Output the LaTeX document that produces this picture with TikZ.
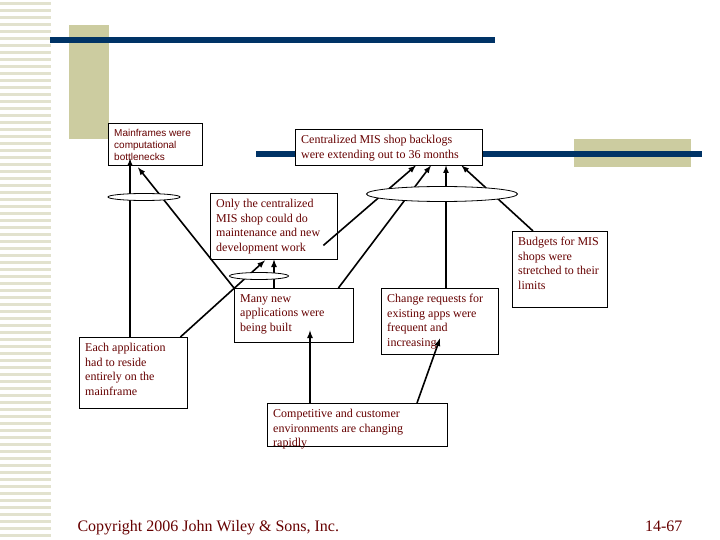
\documentclass[tikz,border=0pt]{standalone}
\usepackage{fontspec}
\setmainfont{Liberation Serif}
\setsansfont{Liberation Sans}
\usepackage{tikz}
\usetikzlibrary{positioning,arrows}
\definecolor{txtred}{RGB}{102,0,0}
\definecolor{navybar}{RGB}{0,51,102}
\definecolor{khaki}{RGB}{204,204,160}
\definecolor{stripe}{RGB}{226,226,206}
\newcommand{\boxtext}[3]{\parbox[c][#2][t]{#1}{\raggedright #3}}

\begin{document}
\begin{tikzpicture}[x=1pt,y=-1pt,
	box/.style={draw,fill=white,anchor=north west,inner xsep=6pt,inner ysep=6pt,text=txtred,font=\fontsize{12}{14.5}\selectfont},
	link/.style={line width=1.6pt,-latex},
	ring/.style={draw,fill=white,line width=0.8pt}]
	\useasboundingbox (0,0) rectangle (720,540);
	\foreach\y in {2,9,...,538}
	{\fill[stripe] (0,\y) rectangle (51,\y+3);}
	\fill[khaki] (69,25) rectangle (109,139);
	\fill[khaki] (574,139) rectangle (691,167);
	\fill[navybar] (50,37) rectangle (495,43);
	\fill[navybar] (256,151) rectangle (702,157);

	\node[box,font=\sffamily\fontsize{10}{12}\selectfont] (mf) at (108,123) {\boxtext{82pt}{30pt}{Mainframes were\\computational\\bottlenecks}};
	\node[box] (cen) at (295,129) {\boxtext{175pt}{24pt}{Centralized MIS shop backlogs\\were extending out to 36 months}};
	\node[box] (only) at (210,193) {\boxtext{115pt}{54pt}{Only the centralized\\MIS shop could do\\maintenance and new\\development work}};
	\node[box] (many) at (234,288) {\boxtext{107pt}{42pt}{Many new\\applications were\\being built}};
	\node[box] (chg) at (381,288) {\boxtext{105pt}{54pt}{Change requests for\\existing apps were\\frequent and\\increasing}};
	\node[box] (bud) at (512,231) {\boxtext{83pt}{64pt}{Budgets for MIS\\shops were\\stretched to their\\limits}};
	\node[box] (each) at (79,337) {\boxtext{96pt}{59pt}{Each application\\had to reside\\entirely on the\\mainframe}};
	\node[box] (comp) at (267,403) {\boxtext{168pt}{31pt}{Competitive and customer\\environments are changing\\rapidly}};

	\draw[link] ([xshift=51pt]each.north west) -- ([xshift=22pt,yshift=7pt]mf.south west);
	\draw[link] (many.north west) -- ([xshift=30pt,yshift=-2pt]mf.south west);
	\draw[link] ([xshift=-7pt]each.north east) -- ([xshift=55pt,yshift=-1pt]only.south west);
	\draw[link] ([xshift=40pt]many.north west) -- ([xshift=64pt]only.south west);
	\draw[link] ([xshift=-14pt,yshift=14pt]only.south east) -- ([xshift=121pt]cen.south west);
	\draw[link] ([xshift=-15pt]many.north east) -- ([xshift=136pt]cen.south west);
	\draw[link] ([xshift=65pt]chg.north west) -- ([xshift=151pt]cen.south west);
	\draw[link] ([xshift=21pt]bud.north west) -- ([xshift=-21pt]cen.south east);
	\draw[link] ([xshift=43pt]comp.north west) -- ([xshift=76pt,yshift=12pt]many.south west);
	\draw[link] ([xshift=150pt]comp.north west) -- ([xshift=59pt,yshift=16pt]chg.south west);

	\draw[ring] (144,197) ellipse (36 and 3.5);
	\draw[ring] (442,194) ellipse (75.5 and 7.5);
	\draw[ring] (259,276) ellipse (29.5 and 3.5);

	\node[anchor=base west,text=txtred,font=\fontsize{16}{19}\selectfont] (copy) at (74,531) {Copyright 2006 John Wiley \& Sons, Inc.};
	\node[anchor=base east,text=txtred,font=\fontsize{16}{19}\selectfont] (page) at (686,531) {14-67};
\end{tikzpicture}
\end{document}
